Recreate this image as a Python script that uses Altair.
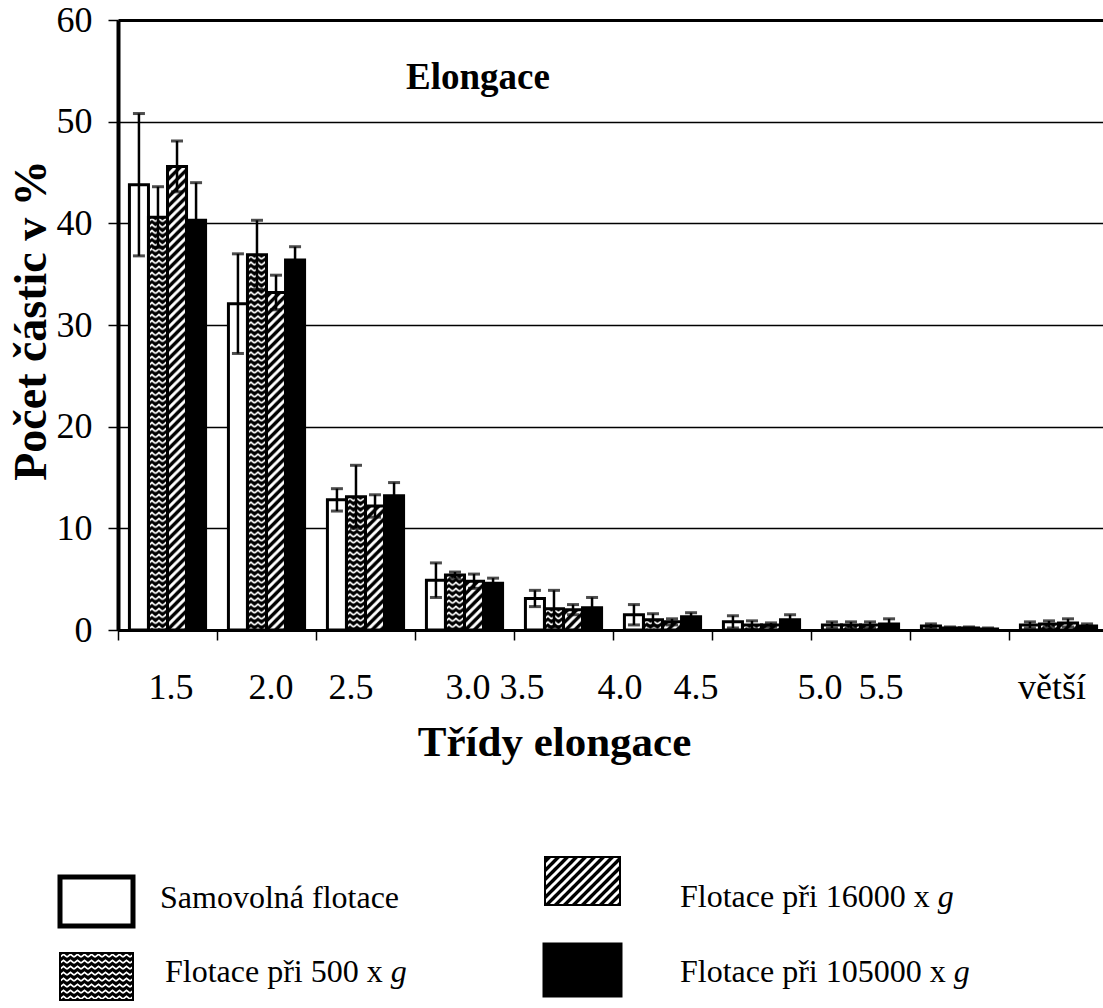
import altair as alt
import pandas as pd
from urllib.parse import quote

# --- data -------------------------------------------------------------
categories = ["1.5", "2.0", "2.5", "3.0", "3.5", "4.0", "4.5", "5.0", "5.5", "větší"]
series = ["Samovolná flotace", "Flotace při 500 x g",
          "Flotace při 16000 x g", "Flotace při 105000 x g"]

samovolna = [43.8, 32.1, 12.8, 4.9, 3.1, 1.5, 0.8, 0.5, 0.4, 0.5]
samovolna_err = [7.0, 4.9, 1.1, 1.7, 0.8, 1.0, 0.6, 0.3, 0.2, 0.3]
f500 = [40.6, 36.9, 13.1, 5.4, 2.1, 1.0, 0.5, 0.5, 0.2, 0.6]
f500_err = [3.0, 3.4, 3.1, 0.3, 1.8, 0.6, 0.4, 0.3, 0.1, 0.3]
f16000 = [45.6, 33.2, 12.2, 4.8, 2.0, 0.8, 0.5, 0.5, 0.2, 0.7]
f16000_err = [2.5, 1.7, 1.1, 0.7, 0.5, 0.3, 0.2, 0.3, 0.1, 0.4]
f105000 = [40.3, 36.4, 13.2, 4.6, 2.2, 1.3, 1.0, 0.6, 0.1, 0.4]
f105000_err = [3.7, 1.3, 1.3, 0.5, 1.0, 0.4, 0.5, 0.5, 0.1, 0.2]

values = [samovolna, f500, f16000, f105000]
errors = [samovolna_err, f500_err, f16000_err, f105000_err]

rows = []
for s, vals, errs in zip(series, values, errors):
    for k, v, e in zip(categories, vals, errs):
        rows.append({"kat": k, "serie": s, "hodnota": v, "chyba": e})
df = pd.DataFrame(rows)

# --- styling ----------------------------------------------------------
FONT = "Liberation Serif"
TICK_FS = 36
X_TITLE_FS = 43
Y_TITLE_FS = 46
LEGEND_FS = 32

# shift of individual category labels along the axis (px)
label_shift = [3, 4, -15, 3, -42, -43, -66, -41, -79, -7]


def svg_uri(body):
    svg = "<svg xmlns='http://www.w3.org/2000/svg'>" + body + "</svg>"
    return "data:image/svg+xml;charset=utf-8," + quote(svg)


ZIGZAG = svg_uri(
    "<defs><pattern id='z' width='7' height='6' patternUnits='userSpaceOnUse'>"
    "<rect width='7' height='6' fill='black'/>"
    "<polyline points='0,4.2 3.5,1.4 7,4.2' fill='none' stroke='white' stroke-width='1.7'/>"
    "</pattern></defs><rect width='100%' height='100%' fill='url(#z)'/>"
)
HATCH = svg_uri(
    "<defs><pattern id='h' width='9' height='9' patternUnits='userSpaceOnUse'>"
    "<rect width='9' height='9' fill='black'/>"
    "<path d='M0,9 L9,0 M-3,3 L3,-3 M6,12 L12,6' stroke='white' stroke-width='3'/>"
    "</pattern></defs><rect width='100%' height='100%' fill='url(#h)'/>"
)

x_axis = alt.Axis(
    tickBand="extent", tickSize=10, tickColor="black", tickWidth=1.5,
    domainColor="black", domainWidth=3,
    labelFont=FONT, labelFontSize=TICK_FS, labelColor="black", labelAngle=0,
    labelPadding=30, labelOverlap=False,
    labelOffset={
        "condition": [
            {"test": f"datum.value == '{c}'", "value": d}
            for c, d in zip(categories, label_shift)
        ],
        "value": 0,
    },
    titleFont=FONT, titleFontSize=X_TITLE_FS, titleFontWeight="bold", titleColor="black",
    titleX=436, titleY=112, titleAlign="center", titleBaseline="middle",
)

y_axis = alt.Axis(
    values=[0, 10, 20, 30, 40, 50, 60], grid=True, gridColor="black",
    gridWidth={"condition": {"test": "datum.value == 60", "value": 3}, "value": 1.3},
    domainColor="black", domainWidth=4,
    tickSize=10, tickColor="black", tickWidth=1.5,
    labelFont=FONT, labelFontSize=TICK_FS, labelColor="black", labelPadding=16,
    titleFont=FONT, titleFontSize=Y_TITLE_FS, titleFontWeight="bold", titleColor="black",
    titleX=-87, titleY=300, titleAlign="center", titleBaseline="middle", titleAngle=270,
)

x_enc = alt.X(
    "kat:N", sort=categories, title="Třídy elongace",
    scale=alt.Scale(domain=categories, range=[0, 990], paddingInner=0, paddingOuter=0),
    axis=x_axis,
)
xo_enc = alt.XOffset(
    "serie:N", scale=alt.Scale(domain=series, paddingInner=0, paddingOuter=0.6)
)
Y_TITLE = "Počet částic v %"
y_scale = alt.Scale(domain=[0, 60], nice=False)


def y_enc(field):
    return alt.Y(field, title=Y_TITLE, scale=y_scale, axis=y_axis)


base = alt.Chart(df)

# bar fills
bars = base.mark_bar(strokeWidth=0).encode(
    x=x_enc, xOffset=xo_enc, y=y_enc("hodnota:Q"),
    color=alt.Color("serie:N", scale=alt.Scale(domain=series,
                    range=["white", "black", "black", "black"]), legend=None),
)

# patterned fills for the 500 x g and 16000 x g series
zig = base.transform_filter(alt.datum.serie == series[1]).mark_image(aspect=False).encode(
    x=x_enc, xOffset=xo_enc, y=y_enc("hodnota:Q"), y2=alt.datum(0),
    url=alt.value(ZIGZAG),
)
hat = base.transform_filter(alt.datum.serie == series[2]).mark_image(aspect=False).encode(
    x=x_enc, xOffset=xo_enc, y=y_enc("hodnota:Q"), y2=alt.datum(0),
    url=alt.value(HATCH),
)

# outlines
outline = base.mark_bar(fillOpacity=0, stroke="black", strokeWidth=3).encode(
    x=x_enc, xOffset=xo_enc, y=y_enc("hodnota:Q"),
)

# error bars
err = base.transform_calculate(
    lo="datum.hodnota - datum.chyba", hi="datum.hodnota + datum.chyba"
)
stem = err.mark_rule(color="black", strokeWidth=2.5).encode(
    x=x_enc, xOffset=xo_enc, y=y_enc("lo:Q"), y2="hi:Q",
)
cap_hi = err.mark_tick(color="black", thickness=3, size=12, orient="horizontal").encode(
    x=x_enc, xOffset=xo_enc, y=y_enc("hi:Q"),
)
cap_lo = err.mark_tick(color="black", thickness=3, size=12, orient="horizontal").encode(
    x=x_enc, xOffset=xo_enc, y=y_enc("lo:Q"),
)

# panel title inside the plot
nadpis = alt.Chart(pd.DataFrame({"t": ["Elongace"]})).mark_text(
    font=FONT, fontSize=37, fontWeight="bold", align="center", baseline="middle",
    color="black",
).encode(text="t:N", x=alt.value(360), y=alt.value(58))

# --- legend below the plot -------------------------------------------
ROMAN = {"F": 556, "l": 278, "o": 500, "t": 278, "a": 444, "c": 444, "e": 444,
         " ": 250, "p": 500, "ř": 333, "i": 278, "x": 500}


def text_width(s, fs):
    return sum(ROMAN.get(ch, 500) for ch in s) * fs / 1000.0


one = pd.DataFrame({"a": [0]})
legend_layers = []

# (left, top, width, height) of each legend swatch, relative to plot origin
swatches = [(-58, 857, 73, 49), (-58, 933, 73, 47), (427, 837, 75, 48), (427, 925, 75, 50)]
# (left, middle) of each legend label
labels = [(42, 878), (47, 952), (562, 877), (562, 952)]
fills = ["white", ZIGZAG, HATCH, "black"]

for s, (lx, ly, w, h), (tx, ty), f in zip(series, swatches, labels, fills):
    if f.startswith("data:"):
        legend_layers.append(
            alt.Chart(one).mark_image(aspect=False, align="left", baseline="top",
                                      width=w, height=h).encode(
                x=alt.value(lx), y=alt.value(ly), url=alt.value(f))
        )
        legend_layers.append(
            alt.Chart(one).mark_rect(fillOpacity=0, stroke="black", strokeWidth=2).encode(
                x=alt.value(lx), x2=alt.value(lx + w), y=alt.value(ly), y2=alt.value(ly + h))
        )
    else:
        legend_layers.append(
            alt.Chart(one).mark_rect(fill=f, stroke="black", strokeWidth=5).encode(
                x=alt.value(lx), x2=alt.value(lx + w), y=alt.value(ly), y2=alt.value(ly + h))
        )
    if s.endswith(" g"):
        prefix = s[:-1]
        legend_layers.append(
            alt.Chart(pd.DataFrame({"t": [prefix]})).mark_text(
                font=FONT, fontSize=LEGEND_FS, align="left", baseline="middle", color="black"
            ).encode(text="t:N", x=alt.value(tx), y=alt.value(ty))
        )
        legend_layers.append(
            alt.Chart(pd.DataFrame({"t": ["g"]})).mark_text(
                font=FONT, fontSize=LEGEND_FS, fontStyle="italic", align="left",
                baseline="middle", color="black"
            ).encode(text="t:N", x=alt.value(tx + text_width(prefix, LEGEND_FS)), y=alt.value(ty))
        )
    else:
        legend_layers.append(
            alt.Chart(pd.DataFrame({"t": [s]})).mark_text(
                font=FONT, fontSize=LEGEND_FS, align="left", baseline="middle", color="black"
            ).encode(text="t:N", x=alt.value(tx), y=alt.value(ty))
        )

chart = alt.layer(
    bars, zig, hat, outline, stem, cap_hi, cap_lo, nadpis, *legend_layers
).properties(
    width=985, height=610,
    padding={"left": 118, "top": 20, "right": 0, "bottom": 378},
    autosize=alt.AutoSizeParams(type="none"),
    background="white",
).configure_view(stroke=None)

chart.save("out.html", embed_options={"renderer": "svg", "actions": False})
